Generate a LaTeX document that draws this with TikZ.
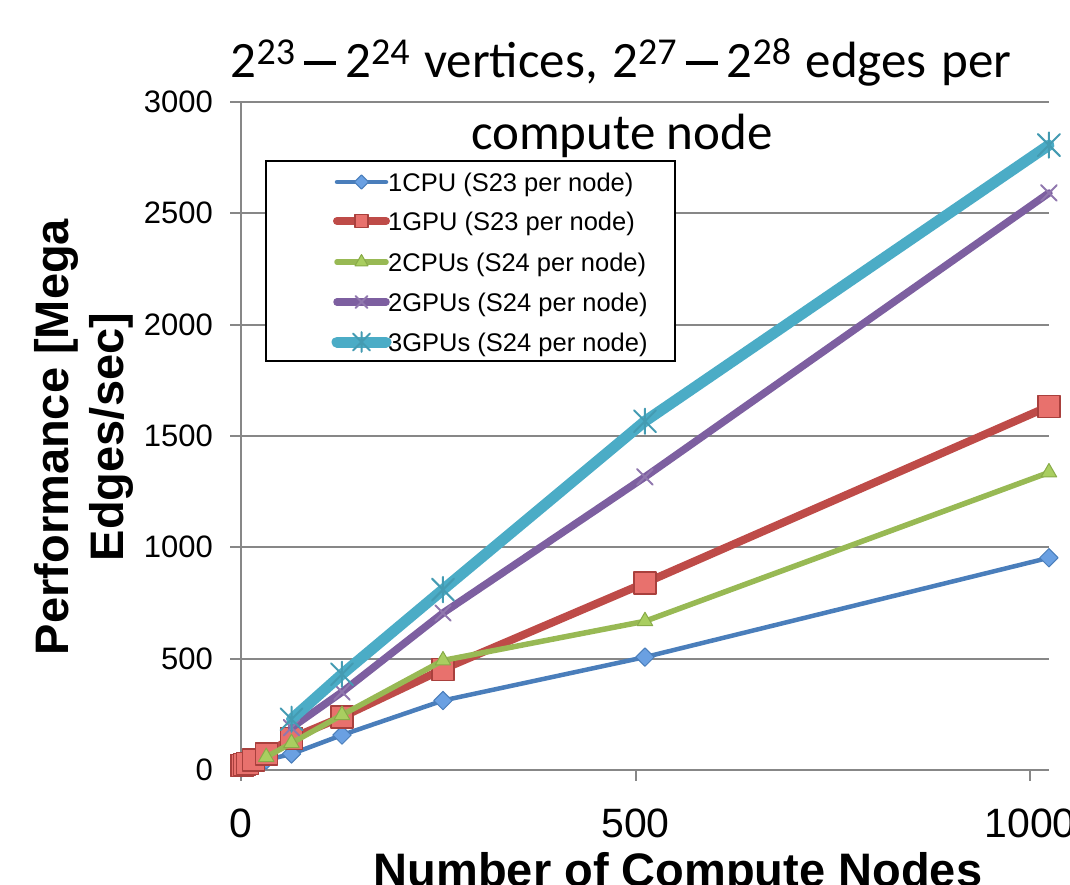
\documentclass[tikz,border=0pt]{standalone}
\usepackage{fontspec}
\setmainfont{Liberation Sans}
\newfontfamily\titlefont{Carlito}
\usetikzlibrary{plotmarks}

% star marker: an x crossed by a vertical bar
\pgfdeclareplotmark{xstar}{%
  \pgfpathmoveto{\pgfqpoint{-\pgfplotmarksize}{-\pgfplotmarksize}}%
  \pgfpathlineto{\pgfqpoint{\pgfplotmarksize}{\pgfplotmarksize}}%
  \pgfpathmoveto{\pgfqpoint{-\pgfplotmarksize}{\pgfplotmarksize}}%
  \pgfpathlineto{\pgfqpoint{\pgfplotmarksize}{-\pgfplotmarksize}}%
  \pgfpathmoveto{\pgfqpoint{0pt}{-1.15\pgfplotmarksize}}%
  \pgfpathlineto{\pgfqpoint{0pt}{1.15\pgfplotmarksize}}%
  \pgfusepathqstroke}

\definecolor{axisgray}{HTML}{878787}
\definecolor{cpuline}{HTML}{4A7EBB}
\definecolor{cpufill}{HTML}{6AA0E2}
\definecolor{gpuline}{HTML}{BE4B48}
\definecolor{gpufill}{HTML}{E8716D}
\definecolor{gpudraw}{HTML}{A9403D}
\definecolor{grnline}{HTML}{98B954}
\definecolor{grnfill}{HTML}{A9CE60}
\definecolor{grndraw}{HTML}{88AB48}
\definecolor{purline}{HTML}{7D5FA0}
\definecolor{tealline}{HTML}{4BACC6}

% power of two with a raised exponent, and the range dash between two of them
\newcommand{\pw}[1]{2{\fontsize{38}{38}\selectfont\raisebox{13pt}{#1}}}
\newcommand{\rangedash}{\hspace{9pt}\rule[12.5pt]{32pt}{3.6pt}\hspace{9pt}}

\begin{document}
\begin{tikzpicture}[x=1pt,y=-1pt,
  gridline/.style={draw=axisgray, line width=2pt},
  ticklab/.style={font=\fontsize{31}{31}\selectfont, anchor=east, inner sep=2pt},
  xticklab/.style={font=\fontsize{41}{41}\selectfont, anchor=base, inner sep=0pt},
  axtitle/.style={font=\fontsize{47}{47}\selectfont\bfseries, anchor=base, inner sep=0pt},
  ctitle/.style={font=\titlefont\fontsize{51}{51}\selectfont, anchor=base, inner sep=0pt},
  legtext/.style={font=\fontsize{25.5}{26}\selectfont, anchor=base west, inner sep=0pt},
  series/.style={line join=round, line cap=round},
  sercpu/.style={series, draw=cpuline, line width=4.5pt, mark=square*,
    mark size=6.5pt, mark options={rotate=45, fill=cpufill, draw=cpuline, line width=1pt}},
  sergpu/.style={series, draw=gpuline, line width=8pt, mark=square*,
    mark size=11pt, mark options={fill=gpufill, draw=gpudraw, line width=1.2pt}},
  sergrn/.style={series, draw=grnline, line width=5.5pt, mark=triangle*,
    mark size=9pt, mark options={fill=grnfill, draw=grndraw, line width=1pt}},
  serpur/.style={series, draw=purline, line width=7.5pt, mark=x,
    mark size=11pt, mark options={draw=purline!85!white, line width=2pt}},
  serteal/.style={series, draw=tealline, line width=11pt, mark=xstar,
    mark size=11pt, mark options={draw=tealline!90!black, line width=2pt}}
]
\useasboundingbox (0,0) rectangle (1070,884);

% horizontal grid and axes
\foreach \v/\yy in {0/770,500/659,1000/547,1500/436,2000/325,2500/213,3000/102}{
  \draw[gridline] (241,\yy) -- (1049,\yy);
  \draw[gridline] (230,\yy) -- (241,\yy);
  \node[ticklab] (yl\v) at (215,\yy) {\v};
}
\draw[gridline] (241,102) -- (241,781);
\foreach \v/\xx in {0/241,500/635.5,1000/1030}{
  \draw[gridline] (\xx,770) -- (\xx,781);
  \node[xticklab] (xl\v) at (\xx,837) {\v};
}

% data series, in data units
\begin{scope}[shift={(241,770)}, x=0.789pt, y=0.2227pt]
  \draw[sercpu] plot coordinates {(1,10) (2,15) (4,20) (8,25) (16,35) (32,45)
    (64,72) (128,157) (256,312) (512,507) (1024,953)};
  \draw[sergpu] plot coordinates {(1,20) (2,22) (4,25) (8,30) (16,45) (32,72)
    (64,143) (128,238) (256,453) (512,840) (1024,1633)};
  \draw[sergrn] plot coordinates {(32,58) (64,121) (128,247) (256,492)
    (512,668) (1024,1336)};
  \draw[serpur] plot coordinates {(64,190) (128,350) (256,705) (512,1316)
    (1024,2591)};
  \draw[serteal] plot coordinates {(64,228) (128,430) (256,810) (512,1566)
    (1024,2806)};
\end{scope}

% legend
\node[draw=black, line width=2pt, fill=white, minimum width=409pt,
  minimum height=200pt, inner sep=0pt] (legend) at (470,261) {};
\draw[sercpu, mark indices={2}, mark size=5pt] plot coordinates {(337,182) (361.5,182) (386,182)};
\draw[sergpu, mark indices={2}, mark size=6.5pt] plot coordinates {(337,221) (361.5,221) (386,221)};
\draw[sergrn, mark indices={2}, mark size=7.5pt] plot coordinates {(337,262) (361.5,262) (386,262)};
\draw[serpur, mark indices={2}, mark size=8.5pt] plot coordinates {(337,302) (361.5,302) (386,302)};
\draw[serteal, mark indices={2}, mark size=8.5pt] plot coordinates {(337,342) (361.5,342) (386,342)};
\node[legtext] (lg1) at (388,191) {1CPU (S23 per node)};
\node[legtext] (lg2) at (388,230) {1GPU (S23 per node)};
\node[legtext] (lg3) at (388,271) {2CPUs (S24 per node)};
\node[legtext] (lg4) at (388,311) {2GPUs (S24 per node)};
\node[legtext] (lg5) at (388,351) {3GPUs (S24 per node)};

% titles
\node[ctitle] (title1) at (621,77) {\pw{23}\rangedash\pw{24}\hspace{3pt} vertices,\hspace{3pt} \pw{27}\rangedash\pw{28}\hspace{3pt} edges\hspace{3pt} per};
\node[ctitle] (title2) at (622,149) {compute node};
\node[axtitle] (xtitle) at (678,886) {Number of Compute Nodes};
\node[axtitle, rotate=90] (ytitle1) at (68,437) {Performance [Mega};
\node[axtitle, rotate=90] (ytitle2) at (123,437) {Edges/sec]};
\end{tikzpicture}
\end{document}
